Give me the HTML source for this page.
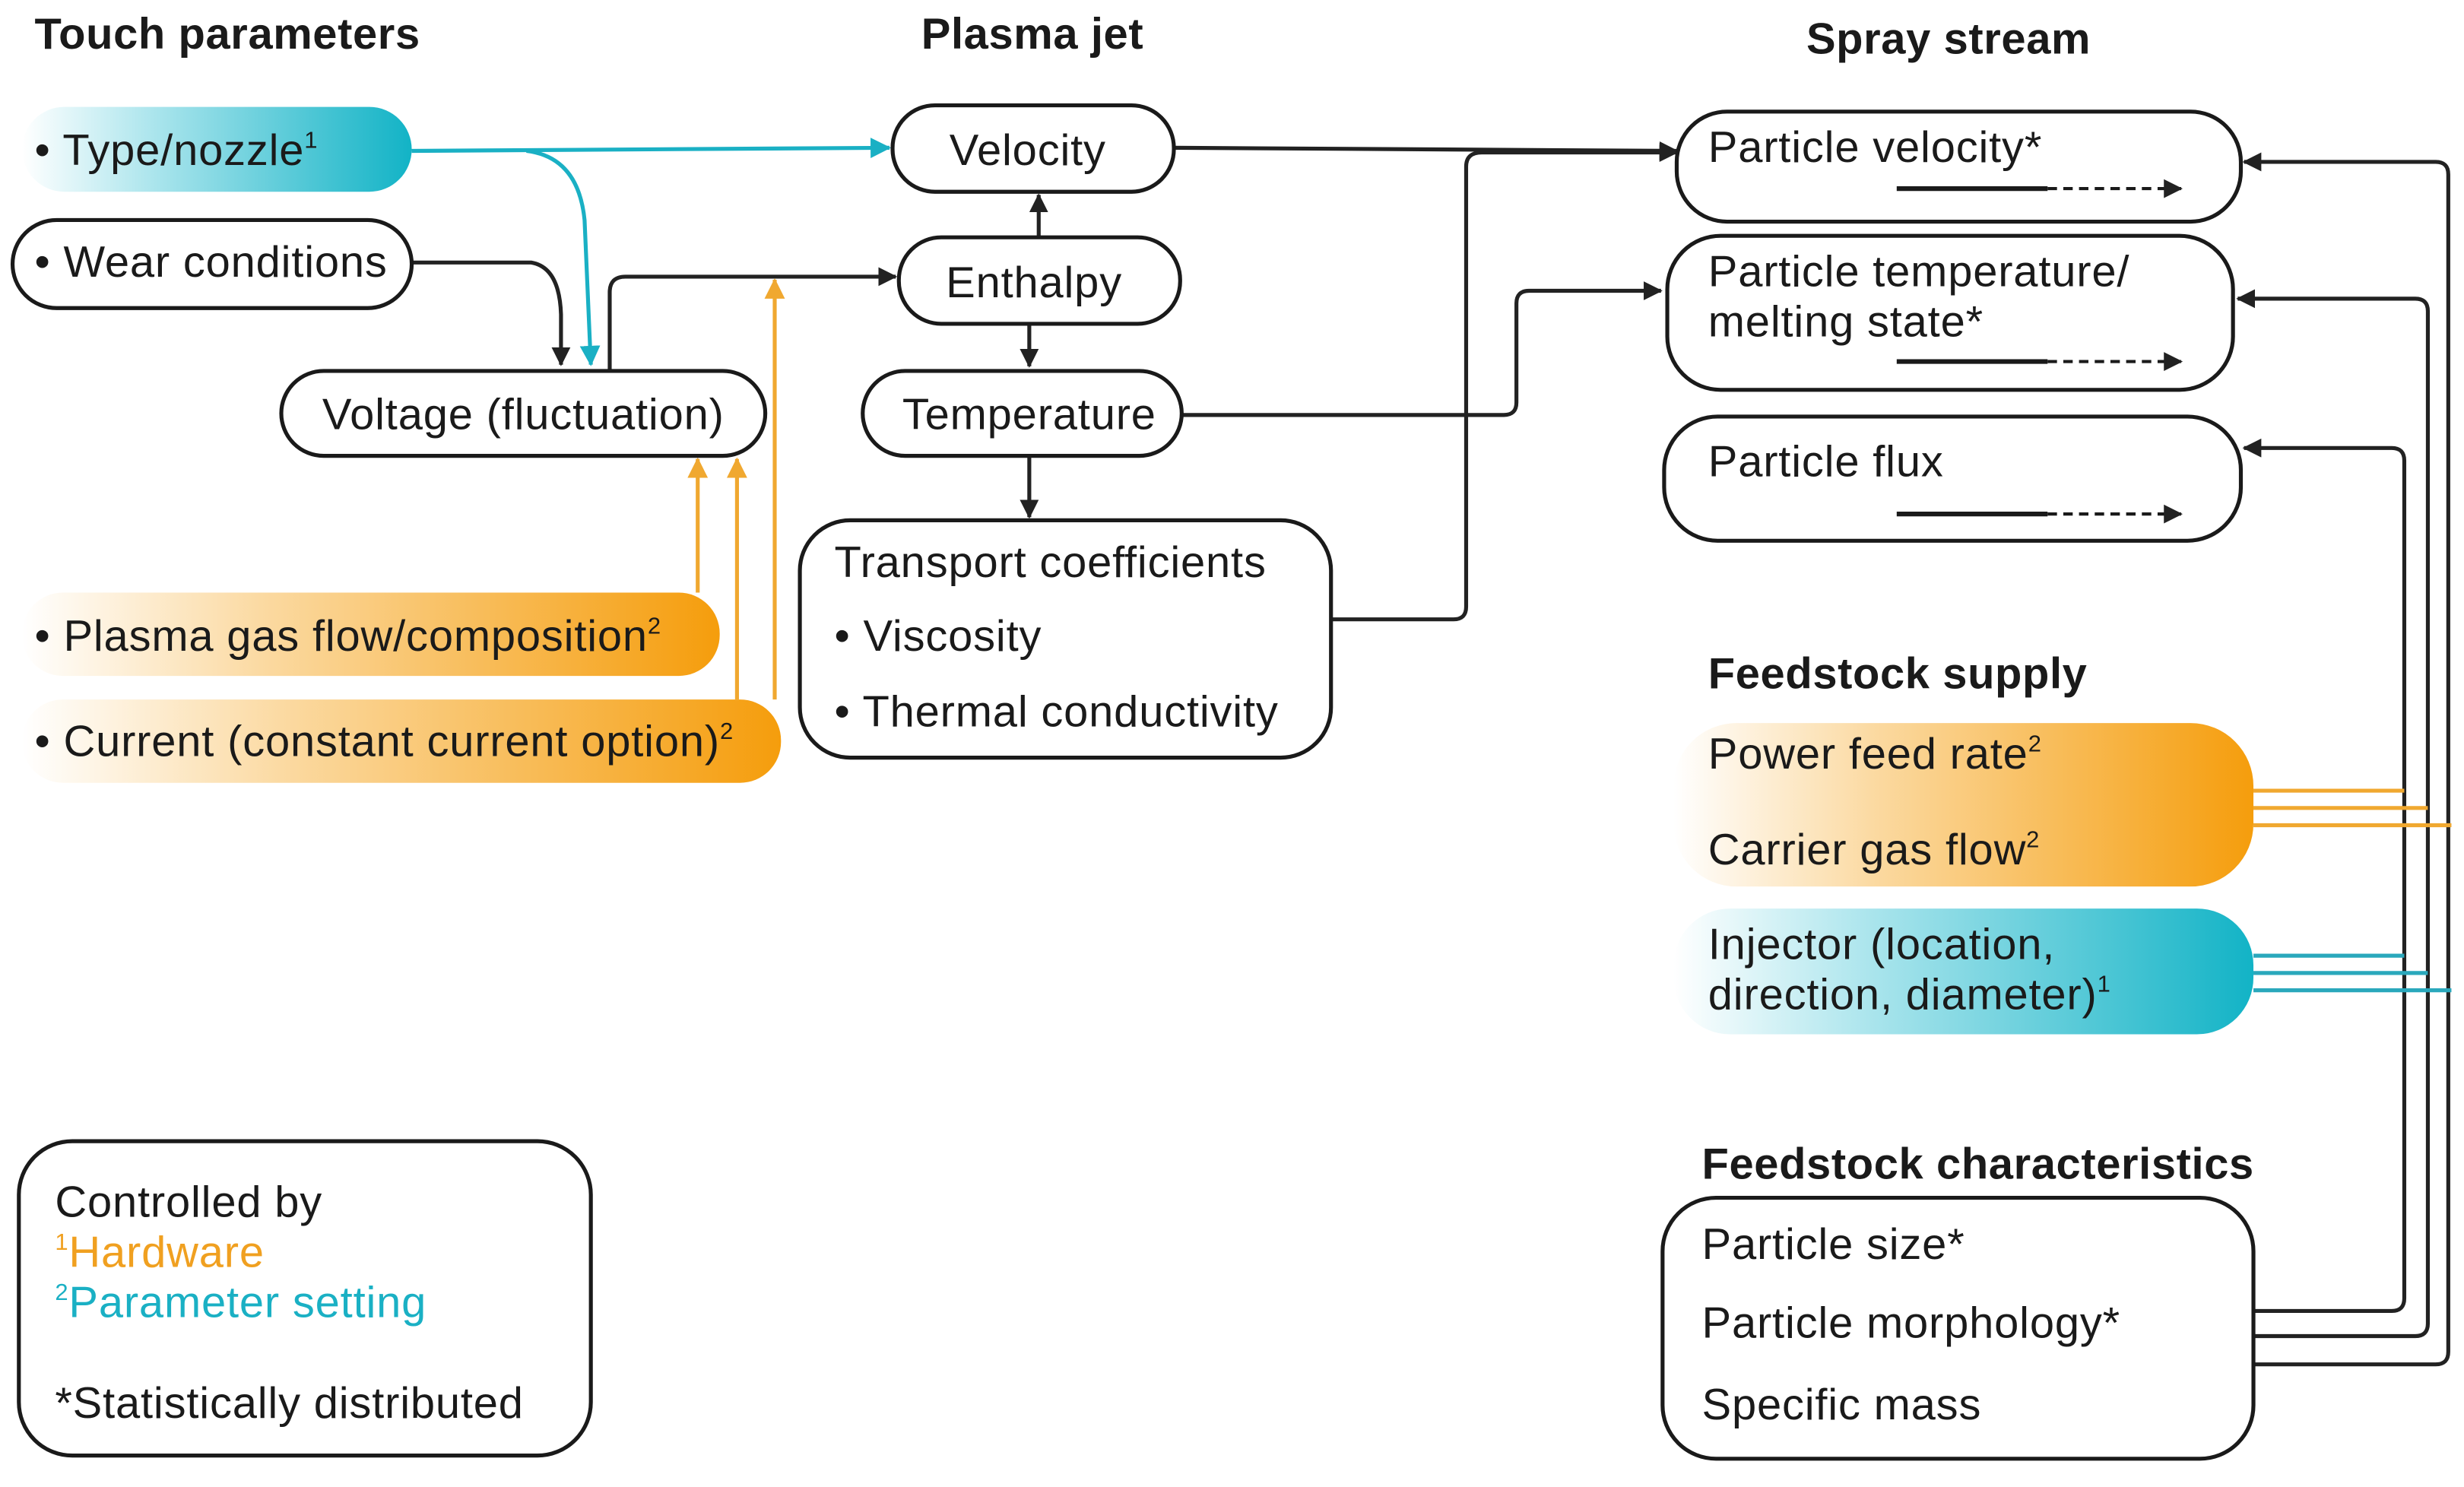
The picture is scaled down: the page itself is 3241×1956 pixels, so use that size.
<!DOCTYPE html>
<html><head><meta charset="utf-8"><style>html,body{margin:0;padding:0;background:#fff}svg{display:block}</style></head>
<body>
<svg width="3241" height="1956" viewBox="0 0 1568 946" preserveAspectRatio="none" xmlns="http://www.w3.org/2000/svg" font-family="Liberation Sans, sans-serif">
<defs>
<linearGradient id="cy" x1="0" x2="1" y1="0" y2="0"><stop offset="0" stop-color="#fff"/><stop offset="0.35" stop-color="#a8e4ec"/><stop offset="1" stop-color="#12b3c6"/></linearGradient>
<linearGradient id="or" x1="0" x2="1" y1="0" y2="0"><stop offset="0" stop-color="#fff"/><stop offset="0.35" stop-color="#fbd9a0"/><stop offset="1" stop-color="#f59d0c"/></linearGradient>
<marker id="ak" markerWidth="12" markerHeight="12" refX="11" refY="6" orient="auto" markerUnits="userSpaceOnUse"><path d="M0,0 L12,6 L0,12 z" fill="#222"/></marker>
<marker id="ac" markerWidth="13" markerHeight="13" refX="12" refY="6.5" orient="auto" markerUnits="userSpaceOnUse"><path d="M0,0 L13,6.5 L0,13 z" fill="#1ab0c4"/></marker>
<marker id="ao" markerWidth="13" markerHeight="13" refX="12" refY="6.5" orient="auto" markerUnits="userSpaceOnUse"><path d="M0,0 L13,6.5 L0,13 z" fill="#f0a830"/></marker>
</defs>
<g font-size="28" fill="#1a1a1a" font-weight="bold" letter-spacing="0.3">
<text x="22" y="31">Touch parameters</text>
<text x="657" y="31" text-anchor="middle">Plasma jet</text>
<text x="1240" y="34" text-anchor="middle">Spray stream</text>
<text x="1087" y="438">Feedstock supply</text>
<text x="1083" y="750">Feedstock characteristics</text>
</g>
<g fill="none" stroke-width="2.5">
<path d="M262,96 L566,94" stroke="#1ab0c4" marker-end="url(#ac)"/>
<path d="M335,96 Q368,100 372,140 L376,232" stroke="#1ab0c4" marker-end="url(#ac)"/>
<path d="M262,167 L338,167 Q356,170 357,200 L357,232" stroke="#222" marker-end="url(#ak)"/>
<path d="M388,236 L388,186 Q388,176 398,176 L570,176" stroke="#222" marker-end="url(#ak)"/>
<path d="M493,445 L493,178" stroke="#f0a830" marker-end="url(#ao)"/>
<path d="M469,445 L469,292" stroke="#f0a830" marker-end="url(#ao)"/>
<path d="M444,377 L444,292" stroke="#f0a830" marker-end="url(#ao)"/>
<path d="M661,151 L661,124" stroke="#222" marker-end="url(#ak)"/>
<path d="M655,206 L655,233" stroke="#222" marker-end="url(#ak)"/>
<path d="M655,290 L655,329" stroke="#222" marker-end="url(#ak)"/>
<path d="M747,94 L1067,96" stroke="#222" marker-end="url(#ak)"/>
<path d="M847,394 L925,394 Q933,394 933,386 L933,106 Q933,97 943,97 L1067,97" stroke="#222" marker-end="url(#ak)"/>
<path d="M752,264 L957,264 Q965,264 965,256 L965,193 Q965,185 973,185 L1057,185" stroke="#222" marker-end="url(#ak)"/>
<path d="M1434,834 L1522,834 Q1530,834 1530,826 L1530,293 Q1530,285 1522,285 L1428,285" stroke="#222" marker-end="url(#ak)"/>
<path d="M1434,850 L1537,850 Q1545,850 1545,842 L1545,198 Q1545,190 1537,190 L1424,190" stroke="#222" marker-end="url(#ak)"/>
<path d="M1434,868 L1550,868 Q1558,868 1558,860 L1558,111 Q1558,103 1550,103 L1428,103" stroke="#222" marker-end="url(#ak)"/>
<path d="M1434,503 L1530,503 M1434,514 L1545,514 M1434,525 L1560,525" stroke="#f0a830"/>
<path d="M1434,608 L1530,608 M1434,619 L1545,619 M1434,630 L1560,630" stroke="#2aa8bc"/>
</g>
<g stroke="#1a1a1a" stroke-width="2.5">
<rect x="14" y="68" width="248" height="54" rx="27" fill="url(#cy)" stroke="none"/>
<rect x="8" y="140" width="254" height="56" rx="28" fill="#fff"/>
<rect x="179" y="236" width="308" height="54" rx="27" fill="#fff"/>
<rect x="14" y="377" width="444" height="53" rx="26" fill="url(#or)" stroke="none"/>
<rect x="14" y="445" width="483" height="53" rx="26" fill="url(#or)" stroke="none"/>
<rect x="568" y="67" width="179" height="55" rx="27" fill="#fff"/>
<rect x="572" y="151" width="179" height="55" rx="27" fill="#fff"/>
<rect x="549" y="236" width="203" height="54" rx="27" fill="#fff"/>
<rect x="509" y="331" width="338" height="151" rx="32" fill="#fff"/>
<rect x="1067" y="71" width="359" height="70" rx="32" fill="#fff"/>
<rect x="1061" y="150" width="360" height="98" rx="34" fill="#fff"/>
<rect x="1059" y="265" width="367" height="79" rx="34" fill="#fff"/>
<rect x="1065" y="460" width="369" height="104" rx="40" fill="url(#or)" stroke="none"/>
<rect x="1065" y="578" width="369" height="80" rx="36" fill="url(#cy)" stroke="none"/>
<rect x="1058" y="762" width="376" height="166" rx="34" fill="#fff"/>
<rect x="12" y="726" width="364" height="200" rx="34" fill="#fff"/>
</g>
<g stroke="#1a1a1a" stroke-width="3" fill="none">
<path d="M1207,120 L1303,120 M1207,230 L1303,230 M1207,327 L1303,327"/>
</g>
<g stroke="#1a1a1a" stroke-width="2" fill="none" stroke-dasharray="6,4">
<path d="M1303,120 L1388,120" marker-end="url(#ak)"/>
<path d="M1303,230 L1388,230" marker-end="url(#ak)"/>
<path d="M1303,327 L1388,327" marker-end="url(#ak)"/>
</g>
<g font-size="28" fill="#1a1a1a" letter-spacing="0.4">
<text x="22" y="105">• Type/nozzle<tspan font-size="15" dy="-11">1</tspan></text>
<text x="22" y="176">• Wear conditions</text>
<text x="333" y="273" text-anchor="middle">Voltage (fluctuation)</text>
<text x="22" y="414">• Plasma gas flow/composition<tspan font-size="15" dy="-11">2</tspan></text>
<text x="22" y="481">• Current (constant current option)<tspan font-size="15" dy="-11">2</tspan></text>
<text x="654" y="105" text-anchor="middle">Velocity</text>
<text x="658" y="189" text-anchor="middle">Enthalpy</text>
<text x="655" y="273" text-anchor="middle">Temperature</text>
<text x="531" y="367">Transport coefficients</text>
<text x="531" y="414">• Viscosity</text>
<text x="531" y="462">• Thermal conductivity</text>
<text x="1087" y="103">Particle velocity*</text>
<text x="1087" y="182">Particle temperature/</text>
<text x="1087" y="214">melting state*</text>
<text x="1087" y="303">Particle flux</text>
<text x="1087" y="489">Power feed rate<tspan font-size="15" dy="-11">2</tspan></text>
<text x="1087" y="550">Carrier gas flow<tspan font-size="15" dy="-11">2</tspan></text>
<text x="1087" y="610">Injector (location,</text>
<text x="1087" y="642">direction, diameter)<tspan font-size="15" dy="-11">1</tspan></text>
<text x="1083" y="801">Particle size*</text>
<text x="1083" y="851">Particle morphology*</text>
<text x="1083" y="903">Specific mass</text>
<text x="35" y="774">Controlled by</text>
<text x="35" y="806" fill="#f0a020"><tspan font-size="15" dy="-11">1</tspan><tspan dy="11">Hardware</tspan></text>
<text x="35" y="838" fill="#1ab0c4"><tspan font-size="15" dy="-11">2</tspan><tspan dy="11">Parameter setting</tspan></text>
<text x="35" y="902">*Statistically distributed</text>
</g>
</svg>
</body></html>
